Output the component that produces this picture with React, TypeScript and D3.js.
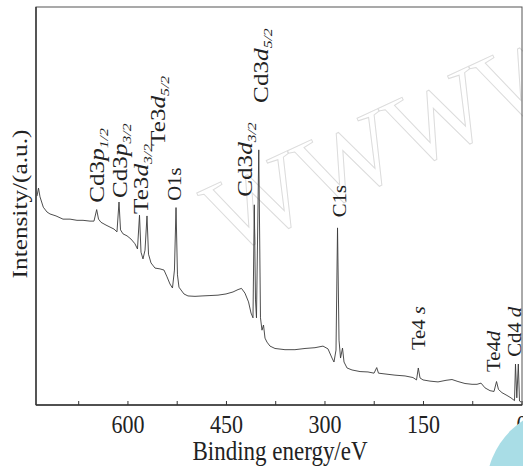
import React from 'react';
import * as d3 from 'd3';

// Binding energy (eV) and intensity (a.u.)
const energies = [
  738.5, 736.2, 733.9, 728.9, 723.3, 718.7, 709.5, 698.9, 688.2, 677.6,
  668.4, 657.8, 651.7, 647.6, 644.8, 641.0, 633.4, 627.3, 621.2, 616.7,
  613.6, 611.3, 607.5, 601.4, 595.4, 589.3, 585.5, 582.4, 580.1, 577.1,
  574.0, 571.0, 568.7, 564.9, 558.8, 551.2, 545.1, 540.5, 536.0, 532.2,
  529.2, 526.8, 524.6, 522.3, 519.2, 514.7, 508.6, 497.9, 487.2, 475.1,
  462.9, 450.7, 440.0, 432.4, 427.1, 421.8, 416.4, 412.6, 409.6, 407.6,
  405.8, 404.3, 400.8, 398.2, 395.9, 393.6, 391.3, 388.3, 383.7, 376.1,
  360.9, 345.7, 330.4, 315.2, 303.0, 295.4, 289.3, 286.3, 283.2, 280.9,
  278.6, 276.3, 273.3, 271.0, 266.4, 258.8, 246.6, 234.5, 225.3, 221.2,
  218.5, 208.6, 193.4, 178.1, 166.0, 160.6, 157.9, 155.3, 150.7, 140.1,
  127.9, 115.7, 106.6, 97.5, 86.8, 76.1, 68.5, 62.4, 56.3, 48.7,
  42.6, 38.8, 35.8, 30.5, 22.9, 16.8, 11.4, 9.9, 7.9, 5.6,
  3.8, 1.5,
];
const intensities = [
  52.5, 54.5, 52.3, 49.7, 48.5, 48.0, 47.5, 46.7, 46.7, 46.4,
  46.4, 46.2, 46.2, 49.1, 46.7, 45.9, 45.2, 44.7, 44.2, 43.5,
  51.0, 44.0, 43.0, 42.5, 41.7, 40.5, 39.2, 47.7, 38.4, 36.7,
  38.9, 47.5, 37.9, 35.7, 34.4, 34.2, 33.9, 32.2, 30.4, 29.4,
  33.9, 49.6, 32.7, 29.6, 28.9, 27.9, 27.4, 27.3, 27.4, 27.5,
  27.6, 27.9, 28.4, 29.0, 29.3, 28.1, 25.9, 23.1, 21.9, 50.3,
  26.4, 21.9, 64.1, 21.9, 18.8, 20.1, 16.8, 15.8, 14.8, 14.2,
  13.9, 13.9, 14.2, 14.4, 14.8, 14.1, 11.8, 10.8, 13.8, 44.5,
  16.3, 11.8, 14.3, 10.8, 9.3, 8.8, 8.4, 8.3, 8.0, 9.4,
  8.0, 7.8, 7.5, 7.3, 6.9, 6.3, 9.3, 6.8, 6.3, 6.0,
  5.8, 6.2, 6.4, 5.9, 5.4, 5.2, 5.2, 5.5, 4.3, 3.6,
  3.4, 5.9, 3.9, 3.1, 2.4, 1.8, 1.1, 10.3, 1.8, 10.3,
  1.0, 0.75,
];

// Peak labels: plain part, italic part, subscript, and anchor (energy, intensity)
const labelPlain = ['Cd3', 'Cd3', 'Te3', 'Te3', 'O1s', 'Cd3', 'Cd3', 'C1s', 'Te4 ', 'Te4', 'Cd4 '];
const labelItalic = ['p', 'p', 'd', 'd', '', 'd', 'd', '', 's', 'd', 'd'];
const labelSub = ['1/2', '3/2', '3/2', '5/2', '', '3/2', '5/2', '', '', '', ''];
const labelEnergy = [636.5, 601.4, 569.5, 543.6, 519.2, 411.1, 386.8, 268.0, 147.7, 33.5, 1.5];
const labelIntensity = [50.8, 52.0, 48.0, 65.1, 51.3, 52.3, 75.9, 47.2, 13.8, 8.3, 12.1];

const majorTicks = [600, 450, 300, 150, 0];
const minorTicks = [675, 525, 375, 225, 75];

const xTitle = 'Binding energy/eV';
const yTitle = 'Intensity/(a.u.)';

const FONT = '"Liberation Serif", "Times New Roman", serif';
const STRETCH = 1.15;

export default function App() {
  const left = 36, right = 522, top = 7, bottom = 405;
  const x = d3.scaleLinear().domain([740, 0]).range([left, right]);
  const y = d3.scaleLinear().domain([0, 100]).range([bottom, top]);
  const idx = d3.range(energies.length);
  const path = d3
    .line<number>()
    .x((i) => x(energies[i]))
    .y((i) => y(intensities[i]))(idx) as string;

  return (
    <svg
      width={523}
      height={466}
      style={{ position: 'absolute', left: 0, top: 0, background: '#fff' }}
      fontFamily={FONT}
    >
      <rect x={0} y={0} width={523} height={466} fill="#fff" />
      {/* watermark */}
      <text
        transform={`translate(226,256) rotate(-25)`}
        fontSize={106}
        fill="none"
        stroke="#dcdcdc"
        strokeWidth={1}
        fontFamily={FONT}
      >
        WWWW
      </text>
      {/* frame */}
      <rect x={left} y={top} width={right - left} height={bottom - top} fill="none" stroke="#555" strokeWidth={1} />
      <line x1={left} x2={left} y1={top} y2={bottom} stroke="#333" strokeWidth={1.4} />
      <line x1={left} x2={right} y1={bottom} y2={bottom} stroke="#333" strokeWidth={1.4} />
      {/* ticks */}
      {majorTicks.concat(minorTicks).map((t) => (
        <line key={t} x1={x(t)} x2={x(t)} y1={bottom} y2={bottom - 4} stroke="#333" strokeWidth={1} />
      ))}
      {majorTicks.map((t) => (
        <text
          key={'l' + t}
          transform={`translate(${x(t)},433) scale(1,${STRETCH})`}
          textAnchor="middle"
          fontSize={22}
          fill="#222"
        >
          {t}
        </text>
      ))}
      <text
        transform={`translate(${(left + right) / 2 + 1},460) scale(1,${STRETCH})`}
        textAnchor="middle"
        fontSize={23}
        fill="#222"
      >
        {xTitle}
      </text>
      <text
        transform={`translate(27,204) scale(1,${STRETCH}) rotate(-90)`}
        textAnchor="middle"
        fontSize={22}
        fill="#222"
      >
        {yTitle}
      </text>
      {/* spectrum */}
      <path d={path} fill="none" stroke="#3a3a3a" strokeWidth={0.9} strokeLinejoin="round" />
      {/* peak labels */}
      {labelPlain.map((p, i) => {
        const big = labelSub[i] !== '';
        const fs = big ? 21 : 18;
        const st = big ? 1.2 : 1.15;
        return (
          <text
            key={'pk' + i}
            transform={`translate(${x(labelEnergy[i])},${y(labelIntensity[i])}) scale(1,${st}) rotate(-90)`}
            fontSize={fs}
            fill="#222"
          >
            {p}
            {labelItalic[i] && <tspan fontStyle="italic">{labelItalic[i]}</tspan>}
            {big && (
              <tspan fontSize={13} fontStyle="italic" dy={4}>
                {labelSub[i]}
              </tspan>
            )}
          </text>
        );
      })}
      {/* corner overlay */}
      <circle cx={570} cy={490} r={84} fill="#a9dde6" />
    </svg>
  );
}
